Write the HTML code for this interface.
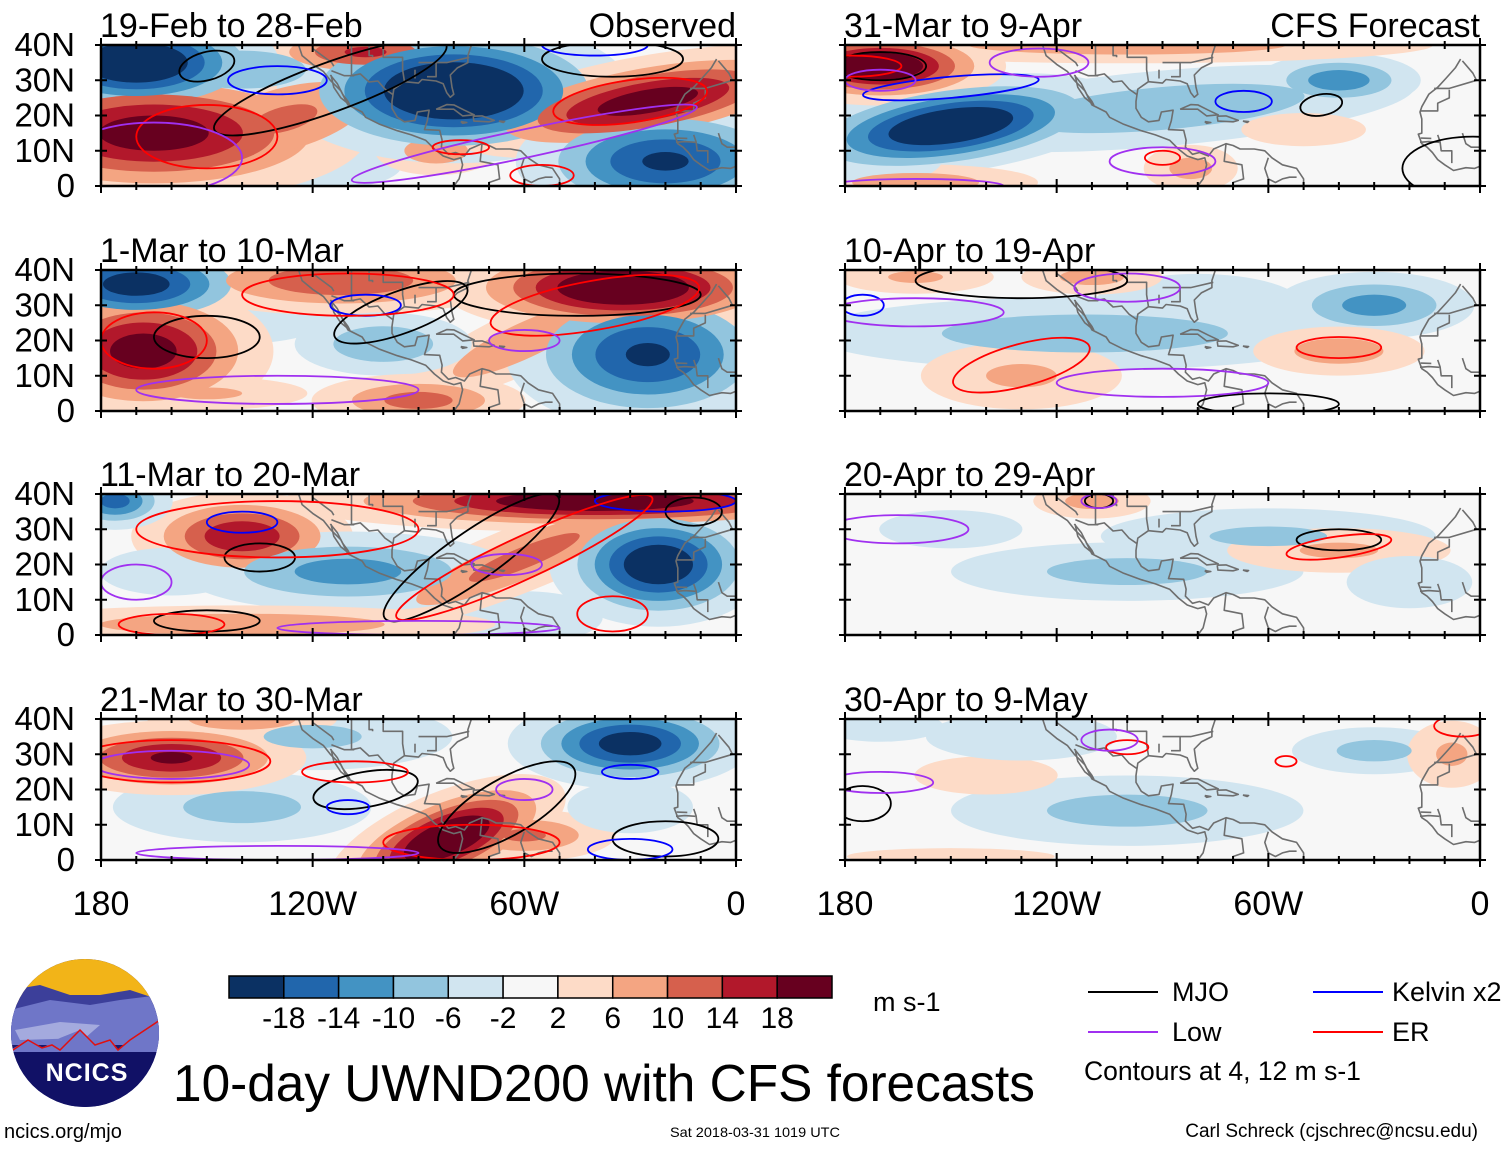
<!DOCTYPE html>
<html><head><meta charset="utf-8">
<style>
html,body{margin:0;padding:0;background:#fff;}
body{width:1510px;height:1147px;overflow:hidden;font-family:"Liberation Sans",sans-serif;}
svg text{font-family:"Liberation Sans",sans-serif;}
</style></head>
<body>
<svg id="fig" width="1510" height="1147" viewBox="0 0 1510 1147" xmlns="http://www.w3.org/2000/svg">
<defs>
<g id="coast" fill="none" stroke="#6e6e6e" stroke-width="1.6" stroke-linejoin="round"></g>
</defs>
<g id="panels"></g>
<g id="colorbar"></g>
<text x="873" y="1011" font-size="27">m s-1</text>
<g>
<line x1="1088" y1="992" x2="1158" y2="992" stroke="#000" stroke-width="2"/>
<text x="1172" y="1001" font-size="27">MJO</text>
<line x1="1088" y1="1032" x2="1158" y2="1032" stroke="#a030f0" stroke-width="2"/>
<text x="1172" y="1041" font-size="27">Low</text>
<line x1="1313" y1="992" x2="1383" y2="992" stroke="#0000ff" stroke-width="2"/>
<text x="1392" y="1001" font-size="27">Kelvin x2</text>
<line x1="1313" y1="1032" x2="1383" y2="1032" stroke="#ff0000" stroke-width="2"/>
<text x="1392" y="1041" font-size="27">ER</text>
<text x="1084" y="1080" font-size="26.5">Contours at 4, 12 m s-1</text>
</g>
<text x="173" y="1101" font-size="52" textLength="862" lengthAdjust="spacingAndGlyphs">10-day UWND200 with CFS forecasts</text>
<text x="4" y="1138" font-size="20">ncics.org/mjo</text>
<text x="670" y="1137" font-size="14" textLength="170" lengthAdjust="spacingAndGlyphs">Sat 2018-03-31 1019 UTC</text>
<text x="1478" y="1137" font-size="19" text-anchor="end">Carl Schreck (cjschrec@ncsu.edu)</text>
<g>
<clipPath id="logoclip"><circle cx="85" cy="1033" r="74"/></clipPath>
<g clip-path="url(#logoclip)">
<rect x="0" y="950" width="170" height="170" fill="#1a1a6e"/>
<rect x="0" y="955" width="170" height="50" fill="#f2b418"/>
<polygon points="10,990 40,985 70,995 100,995 130,990 160,1000 160,1040 10,1040" fill="#3c3f9a"/>
<polygon points="10,1010 50,1000 90,1005 120,1000 160,995 160,1045 10,1045" fill="#6f76c8"/>
<polygon points="15,1030 60,1022 100,1025 85,1038 20,1040" fill="#a4aade"/>
<polygon points="10,1050 28,1040 42,1048 60,1038 80,1030 95,1045 110,1040 118,1050 130,1040 160,1020 160,1060 10,1060" fill="#6f76c8"/>
<polyline points="10,1052 28,1040 42,1048 52,1045 60,1050 80,1030 95,1045 110,1040 118,1050 130,1040 160,1020" fill="none" stroke="#e01010" stroke-width="1.5"/>
<rect x="0" y="1052" width="170" height="70" fill="#111166"/>
</g>
<text x="87" y="1081" font-size="25" font-weight="bold" fill="#fff" text-anchor="middle" letter-spacing="1">NCICS</text>
</g>
</svg>
<script>
// colour scale
const levels = [-18,-14,-10,-6,-2,2,6,10,14,18];
const colors = ["#0b3163","#2166ac","#4393c3","#92c5de","#d1e5f0","#f7f7f7","#fddbc7","#f4a582","#d6604d","#b2182b","#67001f"];
// panel titles
const titles = ["19-Feb to 28-Feb","1-Mar to 10-Mar","11-Mar to 20-Mar","21-Mar to 30-Mar","31-Mar to 9-Apr","10-Apr to 19-Apr","20-Apr to 29-Apr","30-Apr to 9-May"];
const latTicks = [0,10,20,30,40];
const latLabels = ["0","10N","20N","30N","40N"];
const lonTicks = [-180,-120,-60,0];
const lonLabels = ["180","120W","60W","0"];
// anomaly blobs per panel: [lon, lat, rxDeg, ryDeg, amplitude m/s, rotationDeg]
const blobs0 = [[-115,6,15,5,-5,0],[-140,33,20,6,-9,0],[-165,15,28,9,21,0],[-128,19,22,8,11,-15],[-105,38,16,4,15,0],[-85,10,10,4,9,0],[-170,35,18,7,-25,0],[-80,27,22,9,-27,0],[-25,24,26,6,21,-10],[-20,7,20,8,-19,0],[-50,18,12,3,6,0]];
const blobs1 = [[-140,28,18,6,-6,0],[-170,36,17,6,-21,0],[-168,17,17,9,21,0],[-112,37,25,5,14,0],[-60,20,22,5,10,-25],[-100,19,14,5,-10,0],[-25,16,19,10,-19,0],[-32,35,23,6,25,0],[-90,3,16,4,12,0],[-150,5,18,3,7,0]];
const blobs2 = [[-60,5,15,5,-6,0],[-40,38,40,4,23,0],[-140,28,15,6,18,0],[-60,22,28,5,12,-22],[-22,20,14,8,-23,0],[-110,18,25,6,-12,0],[-140,3,40,3,10,0],[-176,38,8,4,-16,0],[-160,18,15,5,-5,0]];
const blobs3 = [[-140,15,22,6,-8,0],[-120,35,25,6,-7,0],[-160,29,18,5,19,0],[-140,40,15,3,10,0],[-30,33,16,6,-21,0],[-82,6,16,6,25,-22],[-60,7,14,4,11,0],[-30,15,12,5,-6,0]];
const blobs4 = [[-150,17,22,6,-25,-8],[-90,22,40,6,-10,-5],[-40,30,12,4,-13,0],[-100,40,50,3,9,0],[-170,34,16,5,24,0],[-82,5,8,4,8,0],[-50,16,15,4,4,0],[-160,1,20,3,9,0],[-170,8,12,5,-6,0]];
const blobs5 = [[-80,30,20,6,-6,0],[-112,22,45,6,-9,0],[-30,30,15,5,-12,0],[-130,10,18,6,7,0],[-40,17,14,4,9,0],[-110,38,12,3,8,0],[-160,38,14,3,7,0]];
const blobs6 = [[-100,18,30,5,-8,0],[-60,28,30,5,-7,0],[-40,24,20,4,7,0],[-110,38,10,3,8,0],[-20,15,12,5,-6,0],[-150,30,15,4,-5,0]];
const blobs7 = [[-100,14,30,6,-8,0],[-30,31,14,4,-8,0],[-140,24,15,4,5,0],[-150,1,25,2,4,0],[-8,30,8,6,7,0],[-170,38,12,3,-6,0],[-130,35,20,5,-5,0]];
const blobs = [blobs0,blobs1,blobs2,blobs3,blobs4,blobs5,blobs6,blobs7];
// contours per panel: [lon, lat, rxDeg, ryDeg, rotationDeg, type]
const contours = [
 [[-150,34,8,4,-15,"k"],[-115,28,35,7,-20,"k"],[-35,36,20,5,0,"k"],[-130,30,14,4,0,"b"],[-40,40,15,3,0,"b"],[-150,14,20,9,0,"r"],[-30,24,22,6,-8,"r"],[-78,11,8,2,0,"r"],[-55,3,9,3,0,"r"],[-165,8,25,10,0,"p"],[-60,12,50,4,-12,"p"]],
 [[-150,21,15,6,0,"k"],[-95,28,20,6,-20,"k"],[-45,33,35,6,0,"k"],[-105,30,10,3,0,"b"],[-165,20,15,8,0,"r"],[-110,33,30,6,0,"r"],[-40,30,30,7,-10,"r"],[-60,20,10,3,0,"p"],[-130,6,40,4,0,"p"]],
 [[-135,22,10,4,0,"k"],[-75,22,30,7,-35,"k"],[-12,35,8,4,0,"k"],[-150,4,15,3,0,"k"],[-140,32,10,3,0,"b"],[-20,38,20,3,0,"b"],[-130,30,40,8,0,"r"],[-60,22,40,6,-25,"r"],[-35,6,10,5,0,"r"],[-160,3,15,3,0,"r"],[-65,20,10,3,0,"p"],[-170,15,10,5,0,"p"],[-90,2,40,2,0,"p"]],
 [[-105,20,15,5,-10,"k"],[-65,15,22,8,-30,"k"],[-20,6,15,5,0,"k"],[-110,15,6,2,0,"b"],[-30,25,8,2,0,"b"],[-30,3,12,3,0,"b"],[-160,28,28,6,0,"r"],[-75,5,25,5,0,"r"],[-108,25,15,3,0,"r"],[-160,27,22,4,0,"p"],[-60,20,8,3,0,"p"],[-130,2,40,2,0,"p"]],
 [[-170,34,13,4,0,"k"],[-45,23,6,3,-10,"k"],[-2,5,20,9,0,"k"],[-150,28,25,3,-5,"b"],[-67,24,8,3,0,"b"],[-178,34,14,3,0,"r"],[-90,8,5,2,0,"r"],[-125,35,14,4,0,"p"],[-170,30,10,3,0,"p"],[-90,7,15,4,0,"p"],[-160,0,25,2,0,"p"]],
 [[-130,37,30,5,0,"k"],[-60,2,20,3,0,"k"],[-175,30,6,3,0,"b"],[-130,13,20,6,-15,"r"],[-40,18,12,3,0,"r"],[-160,28,25,4,0,"p"],[-100,35,15,4,0,"p"],[-90,8,30,4,0,"p"]],
 [[-40,27,12,3,0,"k"],[-108,38,4,2,0,"k"],[-40,25,15,3,-8,"r"],[-165,30,20,4,0,"p"],[-108,38,5,2,0,"p"]],
 [[-175,16,8,5,0,"k"],[-100,32,6,2,0,"r"],[-55,28,3,1.5,0,"r"],[-5,38,8,3,0,"r"],[-170,22,15,3,0,"p"],[-105,34,8,3,0,"p"]]
];
const coastLines = [
 [[-124,40],[-123,37],[-120,34.5],[-117,32.5],[-115,30],[-112,27],[-110,23],[-106,21],[-105,19.5],[-101,17.5],[-96,15.7],[-92,14.5],[-88,13],[-85.5,10.5],[-83,8.5],[-80,7.5],[-78,8],[-77.5,6],[-78.5,2],[-80,0]],
 [[-115,31.5],[-113,29],[-111.5,26],[-110,24],[-109.5,23],[-112,25],[-114,28],[-114.8,31.5]],
 [[-75,40],[-76,37],[-76,35],[-79,33.5],[-81,31.5],[-80.5,28],[-80,26],[-81,25.2],[-82,26.5],[-83,29],[-85,29.8],[-89,30.2],[-90,29.2],[-94,29.6],[-97,27.5],[-97.5,24],[-97.5,22],[-96,19.5],[-94,18.2],[-91,18.6],[-90.3,21],[-87,21.5],[-87.5,18.5],[-88.3,16],[-84,15.8],[-83.3,13],[-83.5,11],[-81.5,9],[-79.5,9.5],[-77,8.5],[-75.5,10.5],[-72,12],[-70,11.5],[-68,10.5],[-64,10.5],[-61,10],[-59,8],[-56,6],[-52,5],[-50,2],[-50,0]],
 [[-85,21.8],[-82,23.1],[-80,23],[-77,21.5],[-74.2,20.2],[-77.5,19.9],[-80,21.8],[-85,21.8]],
 [[-74.5,19.8],[-72,19.9],[-68.5,18.6],[-70,18.2],[-74.3,18.4],[-74.5,19.8]],
 [[-78,18.3],[-76.3,18],[-77.5,17.8],[-78,18.3]],[[-67.2,18.4],[-65.6,18.3],[-66,18],[-67.2,18.4]],
 [[-5.5,36],[-7,33.5],[-9.7,30.5],[-12,28],[-14.5,26],[-16.5,22.5],[-17,21],[-16.5,19],[-16.5,15],[-17.5,14.7],[-16.5,12],[-15,11],[-13.5,9.5],[-12,7.5],[-10,6],[-7.5,4.4],[-4,5.2],[-1.5,5],[0,5.6]],
 [[-100,40],[-100,36.5],[-94.5,36.5],[-94.5,33],[-94,29.7]],[[-109,40],[-109,31.3],[-106.5,31.8],[-104,29.5],[-101.5,29.8],[-99.5,27.5],[-97.2,25.9]],
 [[-114.7,32.7],[-111,31.3],[-108.2,31.3]],[[-90,35],[-88,35],[-85,35],[-82,35],[-75.6,36.5]],[[-91,33],[-91,30.5]],[[-85,35],[-85,31],[-87.6,31]],
 [[-120,39],[-114.6,35],[-114,34]],[[-104,40],[-104,37],[-103,37],[-103,36.5]],[[-5,35.5],[-2,32],[-1,30],[-8.7,27.7],[-13,27.7]],[[-8.7,27.3],[-8.7,25],[-12,23.5],[-12,21.3],[-17,21.3]],
 [[-12,14.5],[-11.3,12.5],[-11,10],[-8,10],[-8,6.5]],[[-5,15],[-4,12],[-2.5,11],[0,11]],[[-17,12.4],[-14.5,12.6],[-11.5,12.4]],[[-16.8,13.6],[-13.8,13.5]],
 [[-72,12],[-72.5,7],[-67.5,6],[-67,2],[-70,1],[-70,-0.5]],[[-60,8],[-61,5],[-60,2],[-58,1],[-56,2],[-54,2.5],[-52,2.5]]
];
const NS="http://www.w3.org/2000/svg";
const W=635,H=141;
const colX=[101,845], rowY=[45,270,494,719];
function mk(tag,attrs,parent){const e=document.createElementNS(NS,tag);for(const k in attrs)e.setAttribute(k,attrs[k]);parent.appendChild(e);return e;}
const coast=document.getElementById('coast');
function xs(lon){return (lon+180)/180*W;}
function ys(lat){return H-lat/40*H;}
coastLines.forEach(line=>{
 const pl=mk('polyline',{points:line.map(p=>xs(p[0]).toFixed(1)+','+ys(p[1]).toFixed(1)).join(' ')},coast);
 
 
});
const panels=document.getElementById('panels');
const strokeCol={k:"#000",b:"#0000ff",r:"#ff0000",p:"#a030f0"};
for(let p=0;p<8;p++){
 const col=p<4?0:1,row=p%4;
 const x0=colX[col],y0=rowY[row];
 const xS=lon=>x0+(lon+180)/180*W, yS=lat=>y0+H-lat/40*H;
 const g=mk('g',{},panels);
 
 
 const cp=mk('clipPath',{id:'clip'+p},g);
 mk('rect',{x:x0,y:y0,width:W,height:H},cp);
 const inner=mk('g',{'clip-path':'url(#clip'+p+')'},g);
 mk('rect',{x:x0,y:y0,width:W,height:H,fill:colors[5]},inner);
 const thr=[2,6,10,14,18];
 thr.forEach((t,ti)=>{
  blobs[p].forEach(b=>{
   const [lon,lat,rx,ry,amp,rot]=b;
   const sign=amp<0?-1:1;const A=Math.abs(amp);
   if(A<=t)return;
   const s=Math.sqrt(2*Math.log(A/t));
   const idx=sign>0?6+ti:4-ti;
   const e=mk('ellipse',{cx:xS(lon),cy:yS(lat),rx:(rx*s*W/180).toFixed(1),ry:(ry*s*H/40).toFixed(1),fill:colors[idx],transform:'rotate('+rot+' '+xS(lon)+' '+yS(lat)+')'},inner);
   
   
  });
 });
 const u=mk('use',{href:'#coast',transform:'translate('+x0+','+y0+')'},inner);
 
 
 contours[p].forEach(c=>{
  const [lon,lat,rx,ry,rot,t]=c;
  const e=mk('ellipse',{cx:xS(lon),cy:yS(lat),rx:rx*W/180,ry:ry*H/40,fill:'none',stroke:strokeCol[t],'stroke-width':1.8,transform:'rotate('+rot+' '+xS(lon)+' '+yS(lat)+')'},inner);
  
  
 });
 const fr=mk('rect',{x:x0,y:y0,width:W,height:H,fill:'none',stroke:'#000','stroke-width':2.5},g);
 
 
 for(let lon=-180;lon<=0;lon+=10){
  const maj=lon%60===0;const L=maj?7:4;
  mk('line',{x1:xS(lon),y1:y0-L,x2:xS(lon),y2:y0+L,stroke:'#000','stroke-width':2},g);
  mk('line',{x1:xS(lon),y1:y0+H-L,x2:xS(lon),y2:y0+H+L,stroke:'#000','stroke-width':2},g);
 }
 latTicks.forEach(lat=>{
  mk('line',{x1:x0-6,y1:yS(lat),x2:x0+6,y2:yS(lat),stroke:'#000','stroke-width':2},g);
  mk('line',{x1:x0+W-6,y1:yS(lat),x2:x0+W+6,y2:yS(lat),stroke:'#000','stroke-width':2},g);
 });
 if(col===0){
  latLabels.forEach((lab,i)=>{
   const t=mk('text',{x:75,y:yS(latTicks[i])+11,'font-size':33,'text-anchor':'end'},g);
   t.textContent=lab;
   
   
  });
 }
 const tt=mk('text',{x:x0-1,y:y0-8,'font-size':34},g);
 tt.textContent=titles[p];
 
 
 if(row===0){
  const st=mk('text',{x:x0+W,y:y0-8,'font-size':34,'text-anchor':'end'},g);
  st.textContent=col===0?'Observed':'CFS Forecast';
  
  
 }
 if(row===3){
  lonLabels.forEach((lab,i)=>{
   const t=mk('text',{x:xS(lonTicks[i]),y:915,'font-size':34,'text-anchor':'middle'},g);
   t.textContent=lab;
   
   
  });
 }
}
const cb=document.getElementById('colorbar');
const cbX=229,cbW=603,cbY=976,cbH=22,bw=cbW/colors.length;
colors.forEach((c,i)=>{
 const r=mk('rect',{x:cbX+i*bw,y:cbY,width:bw,height:cbH,fill:c,stroke:'#000','stroke-width':1.5},cb);
 
 
});
levels.forEach((lv,i)=>{
 const t=mk('text',{x:cbX+(i+1)*bw,y:1028,'font-size':30,'text-anchor':'middle'},cb);
 t.textContent=lv;
 
 
});
</script>
</body></html>
